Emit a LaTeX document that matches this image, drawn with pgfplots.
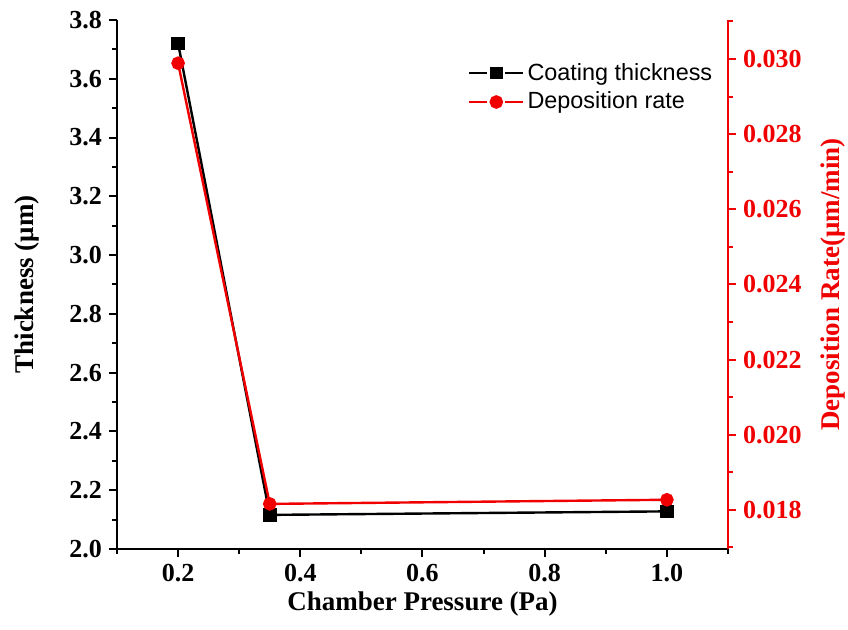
\documentclass[border=0pt]{standalone}
\usepackage{pgfplots}
\pgfplotsset{compat=1.18}
\usepackage{fontspec}
\setmainfont{Liberation Serif}
\newfontfamily\arial{Liberation Sans}
\definecolor{myred}{RGB}{240,0,0}
\begin{document}
\begin{tikzpicture}
\useasboundingbox (-58.5pt,-40.5pt) rectangle (365.5pt,274.5pt);
\begin{axis}[
  at={(0,0)}, anchor=south west,
  width=305.5pt, height=264.5pt, scale only axis,
  xmin=0.1, xmax=1.1, ymin=2.0, ymax=3.8,
  axis x line*=bottom, axis y line*=left,
  axis line style={line width=1pt, -, black},
  tick align=outside,
  xtick={0.2,0.4,0.6,0.8,1.0},
  minor xtick={0.1,0.3,0.5,0.7,0.9,1.1},
  ytick={2.0,2.2,2.4,2.6,2.8,3.0,3.2,3.4,3.6,3.8},
  minor y tick num=1,
  major tick length=4pt, minor tick length=2.5pt,
  every tick/.style={line width=1pt, black},
  /pgf/number format/assume math mode=true,
  /pgf/number format/.cd, fixed, fixed zerofill, precision=1, /pgfplots/.cd,
  ticklabel style={font=\fontsize{13}{15}\selectfont\bfseries},
  xlabel={Chamber Pressure (Pa)}, ylabel={Thickness (μm)},
  label style={font=\fontsize{13.5}{16}\selectfont\bfseries},
  xlabel style={at={(axis description cs:0.5,-0.104)}, anchor=center},
  ylabel style={at={(axis description cs:-0.147,0.5)}, anchor=center},
  clip=false,
]
\addplot[black, line width=1.2pt, mark=square*, mark size=2.8pt, mark options={solid}] coordinates {(0.2,3.72) (0.35,2.116) (1.0,2.128)};
\end{axis}
\begin{axis}[
  at={(0,0)}, anchor=south west,
  width=305.5pt, height=264.5pt, scale only axis,
  xmin=0.1, xmax=1.1, ymin=0.01696, ymax=0.03104,
  axis x line=none, axis y line*=right,
  axis line style={line width=1pt, -, myred},
  tick align=outside,
  ytick={0.018,0.020,0.022,0.024,0.026,0.028,0.030},
  minor ytick={0.017,0.019,0.021,0.023,0.025,0.027,0.029,0.031},
  major tick length=4pt, minor tick length=2.5pt,
  every tick/.style={line width=1pt, myred},
  scaled y ticks=false,
  /pgf/number format/assume math mode=true,
  /pgf/number format/.cd, fixed, fixed zerofill, precision=3, /pgfplots/.cd,
  ticklabel style={font=\fontsize{13}{15}\selectfont\bfseries, text=myred},
  ylabel={Deposition Rate(μm/min)},
  label style={font=\fontsize{13.5}{16}\selectfont\bfseries, text=myred},
  ylabel style={at={(axis description cs:1.172,0.5)}, anchor=center},
  legend style={draw=none, fill=none, at={(axis description cs:0.574,0.925)}, anchor=north west,
    font=\arial\fontsize{11.7}{14}\selectfont, row sep=1.5pt, inner sep=0pt,
    nodes={inner sep=1.5pt}},
  legend cell align=left,
  legend image code/.code={
    \draw[#1] (0pt,0pt) -- (9pt,0pt);
    \draw[#1] (18pt,0pt) -- (27pt,0pt);
    \draw[#1, mark repeat=1] plot coordinates {(13.5pt,0pt)};
  },
  clip=false,
]
\addlegendimage{black, line width=1.2pt, mark=square*, mark size=2.6pt, mark options={solid}}
\addlegendentry{Coating thickness}
\addplot[myred, line width=1.2pt, mark=*, mark size=2.8pt, mark options={solid}] coordinates {(0.2,0.02989) (0.35,0.01816) (1.0,0.01827)};
\addlegendentry{Deposition rate}
\end{axis}
\end{tikzpicture}
\end{document}
